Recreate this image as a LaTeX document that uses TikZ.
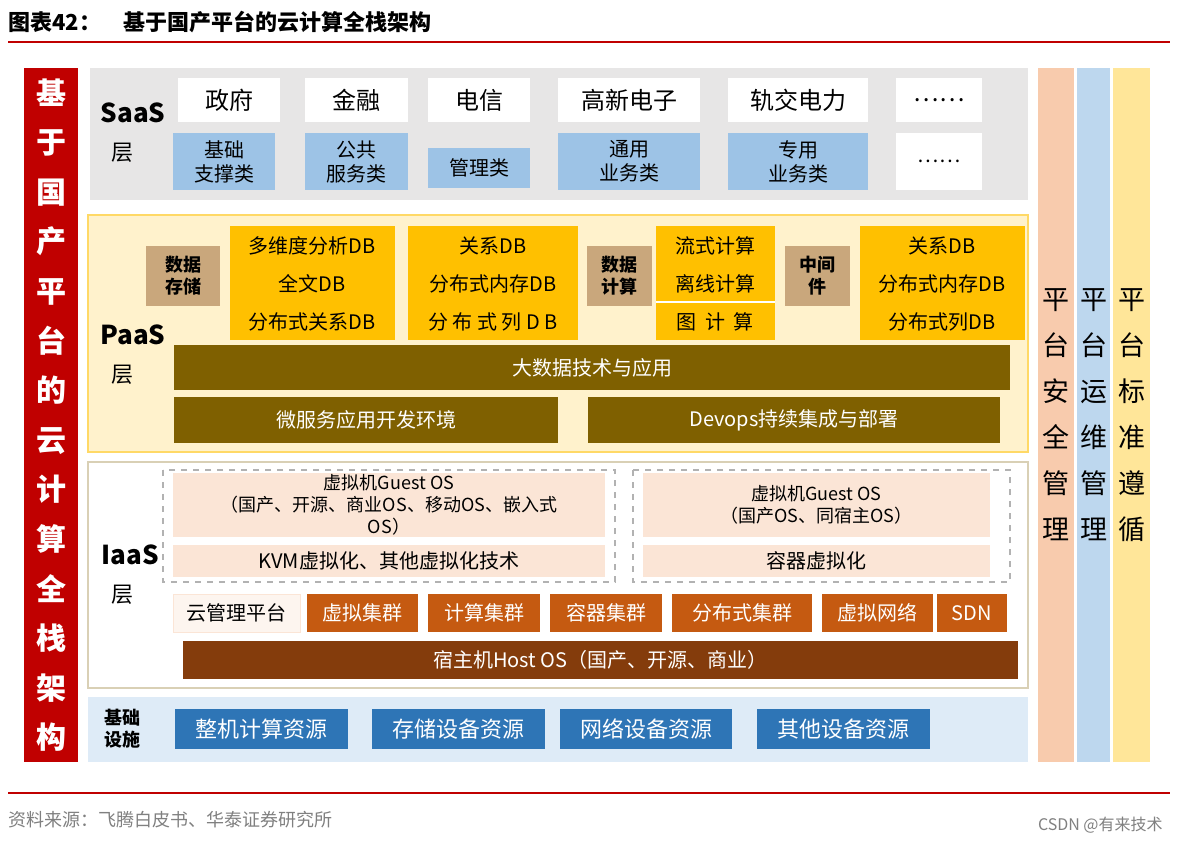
\documentclass[tikz,border=0pt]{standalone}
\usepackage{fontspec}
\setmainfont{Noto Sans CJK SC}
\definecolor{redbar}{HTML}{C00000}
\definecolor{saasbg}{HTML}{E7E6E6}
\definecolor{lblue}{HTML}{9DC3E6}
\definecolor{paasbg}{HTML}{FFF2CC}
\definecolor{gold}{HTML}{FFC000}
\definecolor{tan}{HTML}{C9A77C}
\definecolor{olive}{HTML}{7F6000}
\definecolor{pinkbg}{HTML}{FBE5D6}
\definecolor{orng}{HTML}{C55A11}
\definecolor{hostc}{HTML}{843C0C}
\definecolor{infbg}{HTML}{DEEBF7}
\definecolor{bluec}{HTML}{2E75B6}
\definecolor{peach}{HTML}{F8CBAD}
\definecolor{colblue}{HTML}{BDD7EE}
\definecolor{colyel}{HTML}{FFE699}
\newcommand{\bx}[7]{\path[fill=#6] (#2,#3) rectangle (#4,#5) node[midway,lbl](#1){#7};}
\tikzset{lbl/.style={align=center,font=\fontsize{10}{12}\selectfont,inner sep=0pt},
 tanlbl/.style={lbl,font=\bfseries\fontsize{9}{11}\selectfont},
 vert/.style={align=center,inner sep=0pt,font=\fontsize{13.5}{23}\selectfont}}
\begin{document}
\begin{tikzpicture}[x=0.5pt,y=-0.5pt]
\useasboundingbox (0,0) rectangle (1178,843);
\fill[white] (0,0) rectangle (1178,843);
% title
\node[anchor=west,font=\bfseries\fontsize{11}{13}\selectfont,inner sep=0] (title) at (8,22) {图表42：\quad 基于国产平台的云计算全栈架构};
\draw[redbar,line width=0.8pt] (8,42) -- (1170,42);
\draw[redbar,line width=0.8pt] (8,793) -- (1170,793);
\node[anchor=west,text=gray,font=\fontsize{9}{11}\selectfont,inner sep=0] (src) at (8,820) {资料来源：飞腾白皮书、华泰证券研究所};
\node[anchor=east,text=gray,font=\fontsize{8}{10}\selectfont,inner sep=0] (csdn) at (1163,825) {CSDN @有来技术};
% left bar
\path[fill=redbar] (24,68) rectangle (78,762) node[midway,vert,text=white,font=\bfseries\fontsize{15}{24.8}\selectfont](lbar){基\\于\\国\\产\\平\\台\\的\\云\\计\\算\\全\\栈\\架\\构};
% right columns
\path[fill=peach] (1038,68) rectangle (1074,762);
\node[vert] (c1) at (1056,415) {平\\台\\安\\全\\管\\理};
\path[fill=colblue] (1077,68) rectangle (1110,762);
\node[vert] (c2) at (1094,415) {平\\台\\运\\维\\管\\理};
\path[fill=colyel] (1113,68) rectangle (1150,762);
\node[vert] (c3) at (1132,415) {平\\台\\标\\准\\遵\\循};
% SaaS
\path[fill=saasbg] (90,68) rectangle (1028,200);
\node[font=\bfseries\fontsize{13}{15}\selectfont] (saas) at (133,113) {SaaS};
\node[lbl,font=\fontsize{11}{13}\selectfont] (saasc) at (122,153) {层};
\bx{s1}{178}{78}{280}{122}{white}{\fontsize{12}{14}\selectfont 政府}
\bx{s2}{305}{78}{408}{122}{white}{\fontsize{12}{14}\selectfont 金融}
\bx{s3}{428}{78}{530}{122}{white}{\fontsize{12}{14}\selectfont 电信}
\bx{s4}{558}{78}{700}{122}{white}{\fontsize{12}{14}\selectfont 高新电子}
\bx{s5}{728}{78}{868}{122}{white}{\fontsize{12}{14}\selectfont 轨交电力}
\bx{s6}{896}{78}{982}{122}{white}{\fontsize{12}{14}\selectfont ……}
\bx{t1}{173}{133}{275}{190}{lblue}{基础\\支撑类}
\bx{t2}{305}{133}{408}{190}{lblue}{公共\\服务类}
\bx{t3}{428}{148}{530}{188}{lblue}{管理类}
\bx{t4}{558}{133}{700}{190}{lblue}{通用\\业务类}
\bx{t5}{728}{133}{868}{190}{lblue}{专用\\业务类}
\bx{t6}{896}{133}{982}{190}{white}{……}
% PaaS
\path[fill=paasbg,draw=gold!60,line width=0.8pt] (88,215) rectangle (1028,452);
\node[font=\bfseries\fontsize{13}{15}\selectfont] (paas) at (133,335) {PaaS};
\node[lbl,font=\fontsize{11}{13}\selectfont] (paasc) at (122,375) {层};
\path[fill=tan] (146,246) rectangle (220,306) node[midway,tanlbl](d1){数据\\存储};
\path[fill=tan] (587,246) rectangle (652,306) node[midway,tanlbl](d2){数据\\计算};
\path[fill=tan] (785,246) rectangle (850,306) node[midway,tanlbl](d3){中间\\件};
\path[fill=gold] (230,226) rectangle (395,340);
\path[fill=gold] (408,226) rectangle (578,340);
\path[fill=gold] (656,226) rectangle (775,340);
\draw[white,line width=0.8pt] (656,302) -- (775,302);
\path[fill=gold] (860,226) rectangle (1025,340);
\node[lbl] (p11) at (312,246) {多维度分析DB};
\node[lbl] (p12) at (312,284) {全文DB};
\node[lbl] (p13) at (312,322) {分布式关系DB};
\node[lbl] (p21) at (493,246) {关系DB};
\node[lbl] (p22) at (493,284) {分布式内存DB};
\node[lbl] (p23) at (493,322) {分\ 布\ 式\ 列\ D\ B};
\node[lbl] (p31) at (715,246) {流式计算};
\node[lbl] (p32) at (715,284) {离线计算};
\node[lbl] (p33) at (715,322) {图\ \ 计\ \ 算};
\node[lbl] (p41) at (942,246) {关系DB};
\node[lbl] (p42) at (942,284) {分布式内存DB};
\node[lbl] (p43) at (942,322) {分布式列DB};
\bx{big}{174}{345}{1010}{390}{olive}{\color{white}大数据技术与应用}
\bx{mic}{174}{397}{558}{443}{olive}{\color{white}微服务应用开发环境}
\bx{dev}{588}{397}{1000}{443}{olive}{\color{white}Devops持续集成与部署}
% IaaS
\path[draw=paasbg!70!gray,line width=0.6pt] (88,462) rectangle (1028,688);
\node[font=\bfseries\fontsize{13}{15}\selectfont] (iaas) at (130,555) {IaaS};
\node[lbl,font=\fontsize{11}{13}\selectfont] (iaasc) at (122,595) {层};
\draw[gray!60,dashed,line width=1.2pt] (163,470) rectangle (615,582);
\draw[gray!60,dashed,line width=1.2pt] (633,470) rectangle (1010,582);
\path[fill=pinkbg] (173,473) rectangle (605,537) node[midway,lbl,font=\fontsize{9}{11}\selectfont](g1){虚拟机Guest OS\\（国产、开源、商业OS、移动OS、嵌入式\\OS）};
\bx{k1}{173}{545}{605}{577}{pinkbg}{KVM虚拟化、其他虚拟化技术}
\path[fill=pinkbg] (643,473) rectangle (990,537) node[midway,lbl,font=\fontsize{9}{11}\selectfont](g2){虚拟机Guest OS\\（国产OS、同宿主OS）};
\bx{k2}{643}{545}{990}{577}{pinkbg}{容器虚拟化}
\path[fill=pinkbg!40,draw=pinkbg] (173,594) rectangle (300,632) node[midway,lbl](cm){云管理平台};
\bx{o1}{307}{594}{418}{632}{orng}{\color{white}虚拟集群}
\bx{o2}{428}{594}{540}{632}{orng}{\color{white}计算集群}
\bx{o3}{550}{594}{662}{632}{orng}{\color{white}容器集群}
\bx{o4}{672}{594}{812}{632}{orng}{\color{white}分布式集群}
\bx{o5}{822}{594}{933}{632}{orng}{\color{white}虚拟网络}
\bx{o6}{937}{594}{1007}{632}{orng}{\color{white}SDN}
\bx{host}{183}{641}{1018}{679}{hostc}{\color{white}宿主机Host OS（国产、开源、商业）}
% infra
\path[fill=infbg] (88,697) rectangle (1028,762);
\node[tanlbl] (infc) at (122,729) {基础\\设施};
\path[fill=bluec] (175,709) rectangle (348,749) node[midway,lbl,text=white,font=\fontsize{11}{13}\selectfont](i1){整机计算资源};
\path[fill=bluec] (372,709) rectangle (545,749) node[midway,lbl,text=white,font=\fontsize{11}{13}\selectfont](i2){存储设备资源};
\path[fill=bluec] (560,709) rectangle (732,749) node[midway,lbl,text=white,font=\fontsize{11}{13}\selectfont](i3){网络设备资源};
\path[fill=bluec] (757,709) rectangle (930,749) node[midway,lbl,text=white,font=\fontsize{11}{13}\selectfont](i4){其他设备资源};
\end{tikzpicture}
\end{document}
